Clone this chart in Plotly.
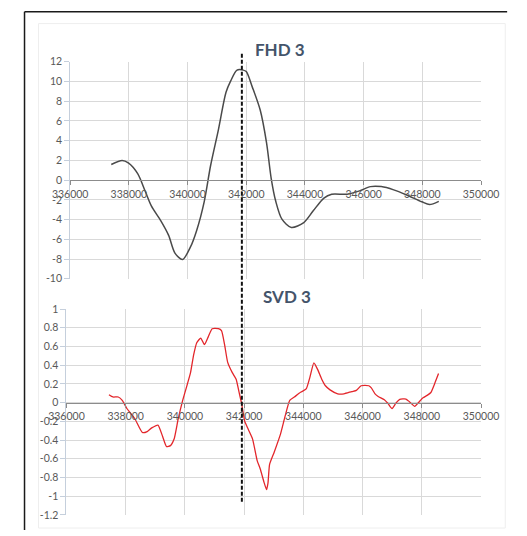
import plotly.graph_objects as go

# ---------------- data ----------------
fhd_x = [337400, 337770, 337980, 338300, 338560, 338770, 339090, 339355, 339570, 339830,
         340095, 340310, 340570, 340785, 341050, 341310, 341470, 341685, 341895, 342000,
         342210, 342475, 342690, 342850, 343005, 343215, 343535, 343960, 344275, 344645,
         344910, 345440, 345860, 346230, 346600, 347025, 347450, 347980, 348245, 348560]
fhd_y = [1.58, 1.98, 1.74, 0.65, -1.16, -2.64, -4.13, -5.6, -7.4, -8.05,
         -6.8, -5.1, -2.15, 1.48, 5.1, 8.9, 10.06, 11.15, 11.15, 11.0,
         9.4, 7.1, 3.8, 0.16, -2.15, -3.96, -4.8, -4.3, -3.14, -1.82,
         -1.43, -1.43, -1.09, -0.66, -0.66, -0.99, -1.49, -2.2, -2.48, -2.15]

svd_x = [337435, 337570, 337750, 337885, 338040, 338305, 338565, 338725, 338880, 339090,
         339245, 339380, 339510, 339635, 339770, 339925, 340085, 340190, 340295, 340400,
         340535, 340660, 340785, 340920, 341130, 341235, 341340, 341445, 341600, 341730,
         341830, 341915, 342020, 342145, 342285, 342440, 342545, 342670, 342755, 342805,
         342860, 343015, 343225, 343380, 343540, 343695, 343905, 344095, 344220, 344355,
         344480, 344620, 344745, 344900, 345160, 345370, 345635, 345790, 345950, 346210,
         346295, 346420, 346525, 346735, 346860, 346995, 347130, 347255, 347465, 347590,
         347760, 347885, 348040, 348180, 348305, 348430, 348565]
svd_y = [0.084, 0.06, 0.06, 0.024, -0.063, -0.17, -0.32, -0.31, -0.27, -0.24,
         -0.36, -0.47, -0.46, -0.39, -0.18, 0.024, 0.2, 0.32, 0.51, 0.64,
         0.69, 0.62, 0.70, 0.79, 0.79, 0.77, 0.62, 0.43, 0.32, 0.25,
         0.11, -0.01, -0.2, -0.29, -0.39, -0.62, -0.71, -0.85, -0.93, -0.86,
         -0.66, -0.53, -0.34, -0.15, 0.024, 0.06, 0.11, 0.146, 0.27, 0.425,
         0.355, 0.25, 0.18, 0.136, 0.094, 0.094, 0.118, 0.13, 0.18, 0.18,
         0.157, 0.094, 0.066, 0.031, -0.01, -0.063, -0.003, 0.035, 0.038, 0.007,
         -0.04, 0.0, 0.052, 0.077, 0.108, 0.2, 0.31]

x_ticks = [336000, 338000, 340000, 342000, 344000, 346000, 348000, 350000]
x_labels = ["336000", "338000", "340000", "342000", "344000", "346000", "348000", "350000"]
fhd_ticks = [12, 10, 8, 6, 4, 2, 0, -2, -4, -6, -8, -10]
fhd_labels = ["12", "10", "8", "6", "4", "2", "0", "-2", "-4", "-6", "-8", "-10"]
svd_ticks = [1, 0.8, 0.6, 0.4, 0.2, 0, -0.2, -0.4, -0.6, -0.8, -1, -1.2]
svd_labels = ["1", "0.8", "0.6", "0.4", "0.2", "0", "-0.2", "-0.4", "-0.6", "-0.8", "-1", "-1.2"]
marker_x = 341850
titles = ["FHD 3", "SVD 3"]

# ---------------- layout helpers ----------------
W, H = 527, 536
FONT = "Lato"
TICKCOL = "#595959"
TITLECOL = "#44546A"
GRID = "#D9D9D9"
AXIS0 = "#8C8C8C"


def py(p):  # pixel y from top -> paper fraction
    return 1 - p / H


top_xdom = [56 / W, 497 / W]
bot_xdom = [52 / W, 497 / W]
top_ydom = [py(279), py(57)]
bot_ydom = [py(520.5), py(310)]
top_yr = [-10, 12]
bot_yr = [-1.2, 1]


def zero_pos(dom, rng):
    return dom[0] + (0 - rng[0]) / (rng[1] - rng[0]) * (dom[1] - dom[0])


fig = go.Figure()
fig.add_trace(go.Scatter(x=fhd_x, y=fhd_y, mode="lines", xaxis="x", yaxis="y",
                         line=dict(color="#4A4A4A", width=1.5, shape="spline", smoothing=0.8),
                         hoverinfo="skip", showlegend=False))
fig.add_trace(go.Scatter(x=svd_x, y=svd_y, mode="lines", xaxis="x2", yaxis="y2",
                         line=dict(color="#E3262B", width=1.3, shape="spline", smoothing=0.5),
                         hoverinfo="skip", showlegend=False))

xcommon = dict(range=[x_ticks[0], x_ticks[-1]], tickvals=x_ticks, ticktext=x_labels,
               showgrid=True, gridcolor=GRID, gridwidth=1, zeroline=False,
               showline=True, linecolor=AXIS0, linewidth=1,
               ticks="outside", ticklen=4, tickcolor=AXIS0,
               tickfont=dict(family=FONT, size=10.5, color=TICKCOL), anchor="free")
ycommon = dict(showgrid=True, gridcolor=GRID, gridwidth=1, zeroline=False,
               showline=True, linecolor="#C5CFDC", linewidth=1,
               ticks="outside", ticklen=5, tickcolor="#C5CFDC",
               tickfont=dict(family=FONT, size=10.5, color=TICKCOL))

fig.update_layout(
    width=W, height=H, margin=dict(l=0, r=0, t=0, b=0),
    paper_bgcolor="white", plot_bgcolor="white",
    xaxis=dict(xcommon, domain=top_xdom, position=zero_pos(top_ydom, top_yr)),
    yaxis=dict(ycommon, domain=top_ydom, range=top_yr, tickvals=fhd_ticks, ticktext=fhd_labels,
               anchor="x"),
    xaxis2=dict(xcommon, domain=bot_xdom, position=zero_pos(bot_ydom, bot_yr)),
    yaxis2=dict(ycommon, domain=bot_ydom, range=bot_yr, tickvals=svd_ticks, ticktext=svd_labels,
                anchor="x2"),
    annotations=[
        dict(text="<b>%s</b>" % titles[0], x=281 / W, y=py(32), xref="paper", yref="paper",
             showarrow=False, font=dict(family=FONT, size=17, color=TITLECOL)),
        dict(text="<b>%s</b>" % titles[1], x=289 / W, y=py(297), xref="paper", yref="paper",
             showarrow=False, font=dict(family=FONT, size=17, color=TITLECOL)),
    ],
    shapes=[
        # faint chart-area border
        dict(type="rect", xref="paper", yref="paper", x0=22 / W, x1=523 / W, y0=py(534), y1=py(18),
             line=dict(color="#EEEEEE", width=1)),
        # outer frame (top and left edges)
        dict(type="line", xref="paper", yref="paper", x0=7 / W, x1=525 / W, y0=py(6), y1=py(6),
             line=dict(color="#1A1A1A", width=1.5)),
        dict(type="line", xref="paper", yref="paper", x0=7 / W, x1=7 / W, y0=py(6), y1=0,
             line=dict(color="#1A1A1A", width=1.5)),
        # dashed marker line across both charts
        dict(type="line", xref="x", yref="paper", x0=marker_x, x1=marker_x, y0=py(507), y1=py(47),
             line=dict(color="#111111", width=2, dash="4px,2px")),
    ],
)

fig.write_html("out.html")
